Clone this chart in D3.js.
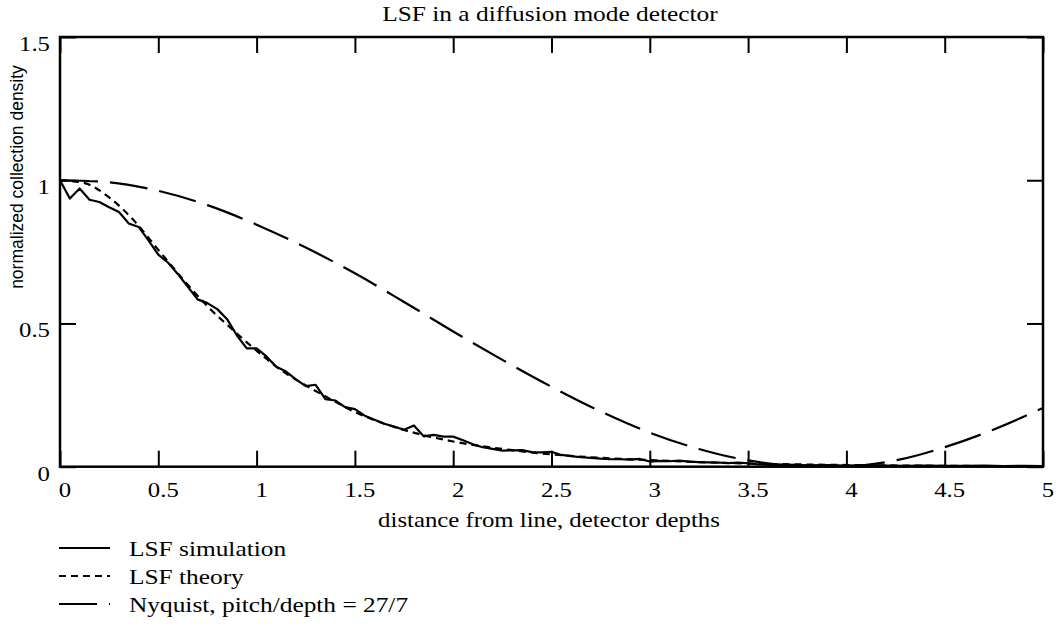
<!DOCTYPE html>
<html>
<head>
<meta charset="utf-8">
<script src="https://cdn.jsdelivr.net/npm/d3@7"></script>
<style>
  html, body { margin: 0; padding: 0; background: #fff; }
  svg { display: block; }
</style>
</head>
<body>
<svg id="chart" width="1058" height="628"></svg>
<script>
// ---- data -------------------------------------------------------------
// Simulated line spread function (noisy Monte-Carlo result)
const simX = [0.00,0.05,0.10,0.15,0.20,0.25,0.30,0.35,0.40,0.45,0.50,0.55,0.60,0.65,0.70,0.75,0.80,0.85,0.90,0.95,
              1.00,1.05,1.10,1.15,1.20,1.25,1.30,1.35,1.40,1.45,1.50,1.55,1.60,1.65,1.70,1.75,1.80,1.85,1.90,1.95,
              2.00,2.05,2.10,2.15,2.20,2.25,2.30,2.35,2.40,2.45,2.50,2.55,2.60,2.65,2.70,2.75,2.80,2.85,2.90,2.95,
              3.00,3.05,3.10,3.15,3.20,3.25,3.30,3.35,3.40,3.45,3.50,3.55,3.60,3.70,3.80,3.90,
              4.00,4.10,4.20,4.30,4.40,4.50,4.60,4.70,4.80,4.90,5.00];
const simY = [1.000,0.936,0.971,0.932,0.924,0.906,0.889,0.849,0.837,0.790,0.740,0.712,0.672,0.628,0.584,0.571,0.550,0.515,0.458,0.413,
              0.413,0.385,0.349,0.332,0.305,0.281,0.286,0.236,0.231,0.208,0.201,0.178,0.164,0.150,0.140,0.129,0.144,0.106,0.111,0.105,
              0.105,0.092,0.078,0.068,0.062,0.056,0.057,0.058,0.051,0.050,0.052,0.041,0.037,0.033,0.031,0.028,0.026,0.026,0.025,0.027,
              0.018,0.020,0.019,0.021,0.018,0.016,0.015,0.014,0.013,0.014,0.012,0.008,0.006,0.007,0.005,0.006,
              0.004,0.005,0.004,0.003,0.004,0.003,0.003,0.004,0.002,0.003,0.002];

// Analytic line spread function
const theoryX = [0,0.125,0.25,0.375,0.5,0.625,0.75,0.875,1.0,1.125,1.25,1.375,1.5,1.625,1.75,1.875,2.0,2.25,2.5,2.75,3.0,3.25,3.5,3.75,4.0,4.5,5.0];
const theoryY = [1.0,0.99,0.94,0.86,0.757,0.655,0.56,0.48,0.405,0.337,0.284,0.236,0.191,0.156,0.128,0.106,0.088,0.062,0.043,0.031,0.023,0.016,0.011,0.008,0.006,0.003,0.002];

// Nyquist response for pitch/depth = 27/7
const nyqX = [0,0.25,0.5,0.75,1.0,1.25,1.5,1.75,2.0,2.25,2.5,2.75,3.0,3.25,3.5,3.75,4.0,4.25,4.5,4.75,5.0];
const nyqY = [1.0,0.993,0.963,0.913,0.845,0.765,0.675,0.575,0.472,0.373,0.279,0.193,0.119,0.062,0.022,0.004,0.002,0.022,0.068,0.130,0.205];

// axis ticks
const xTicks = [0,0.5,1,1.5,2,2.5,3,3.5,4,4.5,5];
const xTickLabels = ["0","0.5","1","1.5","2","2.5","3","3.5","4","4.5","5"];
const yTicks = [0,0.5,1,1.5];
const yTickLabels = ["0","0.5","1","1.5"];

// legend entries
const legendLabels = ["LSF simulation", "LSF theory", "Nyquist, pitch/depth = 27/7"];

// ---- layout -----------------------------------------------------------
const svg = d3.select("#chart");
const plotLeft = 60, plotRight = 1043, plotTop = 37, plotBottom = 466.7;
const SERIF = "'Liberation Serif','Times New Roman',serif";
const SANS = "'Liberation Sans',Arial,sans-serif";
const STRETCH = 1.18;   // wide-set lettering

const x = d3.scaleLinear().domain([0, 5]).range([plotLeft, plotRight]);
const y = d3.scaleLinear().domain([0, 1.5]).range([plotBottom, plotTop]);

const styles = [
  { dash: null },
  { dash: "7,5" },
  { dash: "38,12" }
];

// ---- curves -----------------------------------------------------------
const lineLinear = d3.line().x(d => x(d[0])).y(d => y(d[1]));
const lineSmooth = d3.line().x(d => x(d[0])).y(d => y(d[1])).curve(d3.curveMonotoneX);

const series = [
  { pts: d3.zip(simX, simY), gen: lineLinear, style: styles[0] },
  { pts: d3.zip(theoryX, theoryY), gen: lineSmooth, style: styles[1] },
  { pts: d3.zip(nyqX, nyqY), gen: lineSmooth, style: styles[2] }
];

svg.append("g").selectAll("path").data(series).join("path")
  .attr("d", d => d.gen(d.pts))
  .attr("fill", "none")
  .attr("stroke", "#000")
  .attr("stroke-width", 2.2)
  .attr("stroke-linejoin", "round")
  .attr("stroke-dasharray", d => d.style.dash);

// ---- axes (inward ticks on all four sides) ----------------------------
const TICK = 16;
function styleAxis(g) {
  g.select(".domain").remove();
  g.selectAll(".tick line").attr("stroke", "#000").attr("stroke-width", 2);
  g.selectAll(".tick text").remove();
}
svg.append("g").attr("transform", `translate(0,${plotBottom})`)
  .call(d3.axisBottom(x).tickValues(xTicks).tickSizeInner(-TICK).tickSizeOuter(0)).call(styleAxis);
svg.append("g").attr("transform", `translate(0,${plotTop})`)
  .call(d3.axisTop(x).tickValues(xTicks).tickSizeInner(-TICK).tickSizeOuter(0)).call(styleAxis);
svg.append("g").attr("transform", `translate(${plotLeft},0)`)
  .call(d3.axisLeft(y).tickValues(yTicks).tickSizeInner(-TICK).tickSizeOuter(0)).call(styleAxis);
svg.append("g").attr("transform", `translate(${plotRight},0)`)
  .call(d3.axisRight(y).tickValues(yTicks).tickSizeInner(-TICK).tickSizeOuter(0)).call(styleAxis);

svg.append("rect")
  .attr("x", plotLeft).attr("y", plotTop)
  .attr("width", plotRight - plotLeft).attr("height", plotBottom - plotTop)
  .attr("fill", "none").attr("stroke", "#000").attr("stroke-width", 2.5);

// ---- text helpers -----------------------------------------------------
function label(g, tx, ty, str, opts) {
  const o = Object.assign({ size: 20, anchor: "start", family: SERIF }, opts || {});
  return g.append("text")
    .attr("transform", `translate(${tx},${ty}) scale(${STRETCH},1)`)
    .attr("text-anchor", o.anchor)
    .attr("font-family", o.family)
    .attr("font-size", o.size)
    .attr("fill", "#000")
    .text(str);
}

const texts = svg.append("g");

// tick labels
xTicks.forEach((v, i) => label(texts, x(v) + 5, 497, xTickLabels[i], { size: 21, anchor: "middle" }));
yTicks.forEach((v, i) => label(texts, 50, y(v) + 14, yTickLabels[i], { size: 21, anchor: "end" }));

// title and axis titles
label(texts, 550, 21, "LSF in a diffusion mode detector", { size: 21.5, anchor: "middle" });
label(texts, 549, 527, "distance from line, detector depths", { size: 21, anchor: "middle" });
svg.append("text")
  .attr("transform", `translate(23,177) rotate(-90)`)
  .attr("text-anchor", "middle")
  .attr("font-family", SANS)
  .attr("font-size", 17.5)
  .attr("fill", "#000")
  .text("normalized collection density");

// ---- legend -----------------------------------------------------------
const legend = svg.append("g");
legendLabels.forEach((name, i) => {
  const ly = 548 + i * 28;
  legend.append("line")
    .attr("x1", 59).attr("x2", 110).attr("y1", ly).attr("y2", ly)
    .attr("stroke", "#000").attr("stroke-width", 2)
    .attr("stroke-dasharray", styles[i].dash);
  label(legend, 129, ly + 8, name, { size: 21.5 });
});
</script>
</body>
</html>
